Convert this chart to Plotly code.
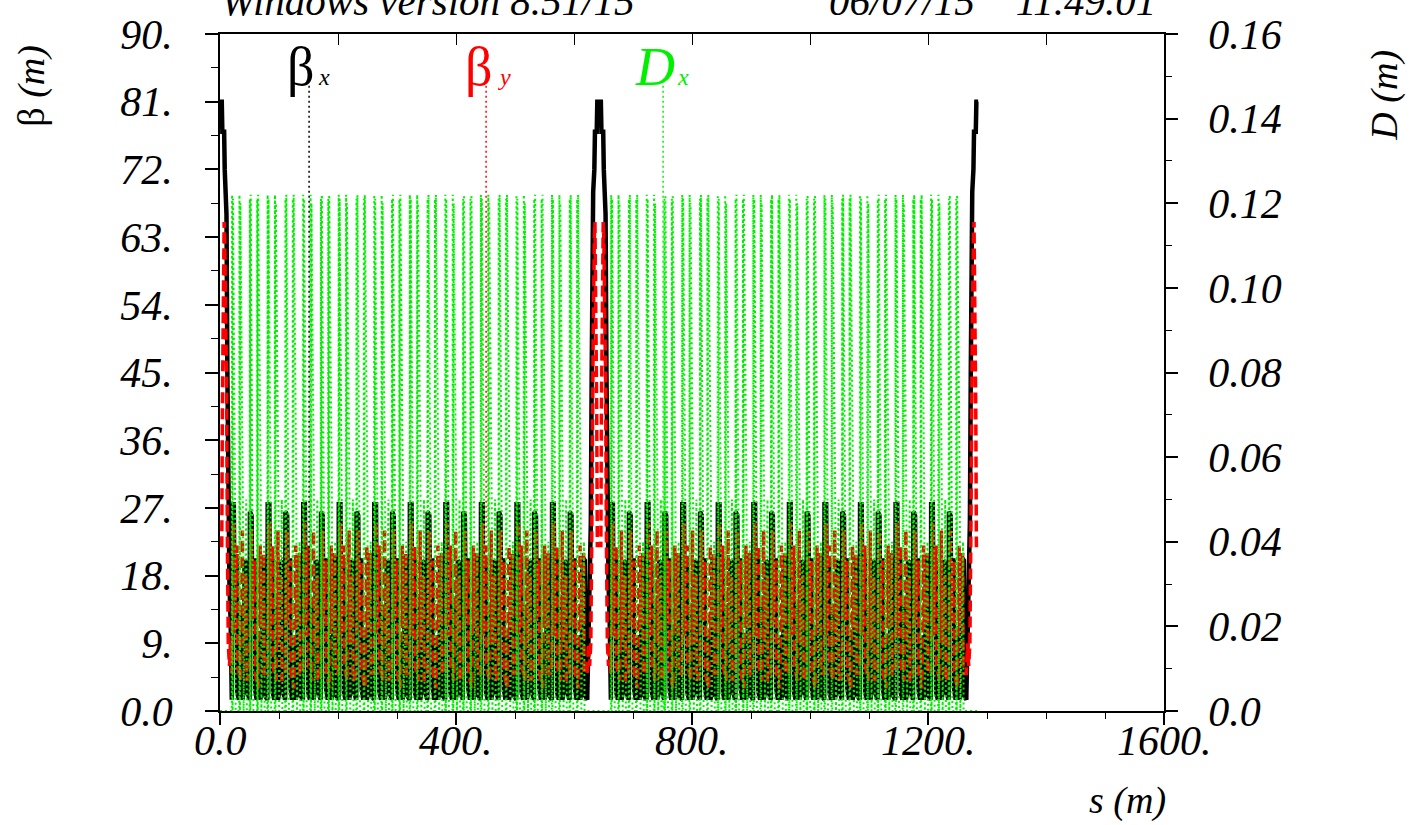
import numpy as np
import plotly.graph_objects as go

# ------------------------------------------------------------------
# Values (MAD twiss plot)
# ------------------------------------------------------------------
RING_LENGTH = 1285.0      # m
INS_HALF = 20.0           # half length of each insertion (m)
CELL_LEN = 30.125         # arc cell length (m)
N_CELLS_PER_ARC = 20

# insertion half profile: distance from insertion centre (m)
ins_d  = [0.0, 3.0, 4.0, 7.0, 8.0, 10.0, 11.0, 12.5, 14.0, 16.0, 18.0, 20.0]
ins_bx = [81.0, 81.0, 77.0, 77.0, 72.0, 69.0, 66.0, 45.0, 25.0, 17.0, 12.0, 2.0]
ins_by = [22.0, 22.0, 40.0, 65.0, 63.0, 50.0, 45.0, 22.0, 9.0, 6.0, 9.0, 5.0]
ins_dd = [0.0, 0.0, 3.0, 7.0, 8.0, 10.0, 11.0, 13.0, 15.0, 17.0, 19.0, 20.0]
ins_dx = [0.0, 0.0, 0.0, 0.0, 0.0, 0.0, 0.0, 0.0, 0.0, 0.0, 0.0, 0.0]

# arc cell A / B : offsets inside the cell (m) and values
bx_o  = [0.0, 0.6, 3.4, 4.0, 8.5, 9.1, 12.0, 12.6, 17.5, 18.1, 21.0, 21.6, 26.0, 26.6, 30.125]
bx_A  = [1.5, 27.5, 27.5, 20.0, 20.0, 2.5, 1.5, 14.0, 13.0, 1.5, 3.0, 20.0, 19.5, 2.5, 1.5]
bx_B  = [1.5, 26.5, 26.0, 20.0, 20.0, 3.0, 1.5, 9.0, 10.0, 1.5, 3.0, 20.5, 20.0, 2.0, 1.5]

by_o  = [0.0, 3.0, 3.6, 9.0, 9.6, 15.0, 18.0, 18.6, 24.0, 24.6, 30.125]
by_A  = [5.0, 25.0, 10.0, 22.0, 6.0, 4.0, 24.0, 9.0, 18.0, 4.0, 5.0]
by_B  = [5.0, 24.0, 12.0, 20.0, 5.0, 3.0, 22.0, 11.0, 21.0, 5.0, 5.0]

dx_o  = [0.0, 0.5, 1.3, 2.0, 5.5, 6.5, 12.5, 13.0, 13.8, 14.5, 19.0, 20.0, 24.5, 25.5, 30.125]
dx_A  = [0.0, 0.122, 0.0, 0.121, 0.05, 0.0, 0.0, 0.122, 0.0, 0.12, 0.045, 0.0, 0.05, 0.0, 0.0]
dx_B  = [0.0, 0.121, 0.0, 0.122, 0.045, 0.0, 0.0, 0.121, 0.0, 0.122, 0.05, 0.0, 0.04, 0.0, 0.0]

# axis tick labels
x_tickvals = [0, 400, 800, 1200, 1600]
x_ticktext = ["0.0", "400.", "800.", "1200.", "1600."]
y_tickvals = [0, 9, 18, 27, 36, 45, 54, 63, 72, 81, 90]
y_ticktext = ["0.0", "9.", "18.", "27.", "36.", "45.", "54.", "63.", "72.", "81.", "90."]
d_tickvals = [0, 0.02, 0.04, 0.06, 0.08, 0.10, 0.12, 0.14, 0.16]
d_ticktext = ["0.0", "0.02", "0.04", "0.06", "0.08", "0.10", "0.12", "0.14", "0.16"]

# positions of the curve labels (s, m)
label_s = {"bx": 151.0, "by": 451.0, "dx": 751.0}


def build(ins_o, ins_v, cell_o, cellA, cellB):
    """Assemble the ring from insertion half profiles and arc cells."""
    s_parts, v_parts = [], []
    io, iv = np.array(ins_o), np.array(ins_v)
    co = np.array(cell_o)
    centre = RING_LENGTH / 2.0
    s_parts.append(io); v_parts.append(iv)
    for arc_start in (INS_HALF, centre + INS_HALF):
        for k in range(N_CELLS_PER_ARC):
            s_parts.append(arc_start + k * CELL_LEN + co)
            v_parts.append(np.array(cellA if k % 2 == 0 else cellB))
        if arc_start == INS_HALF:
            s_parts.append(centre - io[::-1]); v_parts.append(iv[::-1])
            s_parts.append(centre + io[1:]); v_parts.append(iv[1:])
    s_parts.append(RING_LENGTH - io[::-1]); v_parts.append(iv[::-1])
    return np.concatenate(s_parts), np.concatenate(v_parts)


s_bx, v_bx = build(ins_d, ins_bx, bx_o, bx_A, bx_B)
s_by, v_by = build(ins_d, ins_by, by_o, by_A, by_B)
s_dx, v_dx = build(ins_dd, ins_dx, dx_o, dx_A, dx_B)

SERIF = "Liberation Serif"
GREEN = "#00f000"

fig = go.Figure()
fig.add_trace(go.Scatter(x=s_bx, y=v_bx, mode="lines",
                         line=dict(color="#000000", width=4.5), hoverinfo="skip"))
fig.add_trace(go.Scatter(x=s_by, y=v_by, mode="lines",
                         line=dict(color="#ff0000", width=3.5, dash="11px,5px"), hoverinfo="skip"))
fig.add_trace(go.Scatter(x=s_dx, y=v_dx, mode="lines", yaxis="y2",
                         line=dict(color=GREEN, width=2, dash="2px,3px"), hoverinfo="skip"))
# helper (empty) trace so the top tick axis is drawn
fig.add_trace(go.Scatter(x=[], y=[], xaxis="x2", hoverinfo="skip"))

# PLOT AREA in pixels: x 220..1164, y 30..711
L, R, T, B = 220, 1164, 30, 711
W, H = 1410, 825


def px(xp):
    return (xp - L) / (R - L)


def py(yp):
    return (B - yp) / (B - T)


tickfont = dict(family=SERIF, size=42, color="black", style="italic")

fig.update_layout(
    width=W, height=H, autosize=False,
    margin=dict(l=L, r=W - R, t=T, b=H - B, pad=0),
    paper_bgcolor="white", plot_bgcolor="white",
    showlegend=False,
    xaxis=dict(range=[0, 1600], showline=True, linecolor="black", linewidth=1.5, mirror=True,
               tickmode="array", tickvals=x_tickvals, ticktext=x_ticktext,
               ticks="outside", ticklen=12, tickwidth=1.5, tickcolor="black",
               minor=dict(tickmode="linear", tick0=0, dtick=100, ticks="outside",
                          ticklen=6, tickwidth=1.2, tickcolor="black"),
               showgrid=False, zeroline=False, showticklabels=False),
    xaxis2=dict(range=[0, 1600], overlaying="x", side="top", anchor="y",
                tickmode="linear", tick0=0, dtick=200, ticks="inside", ticklen=11,
                tickwidth=1.2, tickcolor="black",
                showticklabels=False, showgrid=False, zeroline=False, showline=False),
    yaxis=dict(range=[0, 90], showline=True, linecolor="black", linewidth=1.5,
               tickmode="array", tickvals=y_tickvals, ticktext=y_ticktext,
               ticks="outside", ticklen=13, tickwidth=1.5, tickcolor="black",
               minor=dict(tickmode="linear", tick0=0, dtick=4.5, ticks="outside",
                          ticklen=7, tickwidth=1.2, tickcolor="black"),
               showgrid=False, zeroline=False, tickfont=tickfont, ticklabelstandoff=24),
    yaxis2=dict(range=[0, 0.16], overlaying="y", side="right", anchor="x",
                showline=True, linecolor="black", linewidth=1.5,
                tickmode="array", tickvals=d_tickvals, ticktext=d_ticktext,
                ticks="outside", ticklen=12, tickwidth=1.5, tickcolor="black",
                minor=dict(tickmode="linear", tick0=0, dtick=0.01, ticks="outside",
                           ticklen=6, tickwidth=1.2, tickcolor="black"),
                showgrid=False, zeroline=False, tickfont=tickfont, ticklabelstandoff=22),
)

ann = []
# x tick labels (placed just below the axis as in the reference)
for v, t in zip(x_tickvals, x_ticktext):
    ann.append(dict(text=t, x=v, xref="x", y=py(741), yref="paper",
                    xanchor="center", yanchor="middle", showarrow=False, font=tickfont))
# header texts (partly cut off by the top of the page, as in the reference)
ann.append(dict(text="Windows version 8.51/15", x=px(219), y=py(-3), xref="paper", yref="paper",
                xanchor="left", yanchor="middle", showarrow=False,
                font=dict(family=SERIF, size=41, color="black", style="italic")))
ann.append(dict(text="06/07/15\u00a0\u00a0\u00a0\u00a011.49.01", x=px(1158), y=py(-3),
                xref="paper", yref="paper", xanchor="right", yanchor="middle", showarrow=False,
                font=dict(family=SERIF, size=41, color="black", style="italic")))
# axis titles
ann.append(dict(text="β <i>(m)</i>", x=px(32), y=py(82), xref="paper", yref="paper",
                xanchor="center", yanchor="middle", textangle=-90, showarrow=False,
                font=dict(family=SERIF, size=38, color="black")))
ann.append(dict(text="<i>D (m)</i>", x=px(1385), y=py(92), xref="paper", yref="paper",
                xanchor="center", yanchor="middle", textangle=-90, showarrow=False,
                font=dict(family=SERIF, size=38, color="black")))
ann.append(dict(text="<i>s (m)</i>", x=px(1127), y=py(801), xref="paper", yref="paper",
                xanchor="center", yanchor="middle", showarrow=False,
                font=dict(family=SERIF, size=38, color="black")))
# curve labels
for main, sub, xm, xs, col, it in [("β", "x", 300, 324, "#000000", False),
                                   ("β", "y", 478, 504, "#ff0000", False),
                                   ("D", "x", 655, 683, GREEN, True)]:
    ann.append(dict(text=main, x=px(xm), y=py(63), xref="paper", yref="paper",
                    xanchor="center", yanchor="middle", showarrow=False,
                    font=dict(family=SERIF, size=54, color=col,
                              style="italic" if it else "normal")))
    ann.append(dict(text=sub, x=px(xs), y=py(73), xref="paper", yref="paper",
                    xanchor="center", yanchor="middle", showarrow=False,
                    font=dict(family=SERIF, size=24, color=col, style="italic")))
fig.update_layout(annotations=ann)

# dotted leader lines from labels down to the curves
top_beta = (B - 82) / (B - T) * 90.0
top_d = (B - 82) / (B - T) * 0.16
shapes = [
    dict(type="line", xref="x", yref="y", x0=label_s["bx"], x1=label_s["bx"],
         y0=top_beta, y1=float(np.interp(label_s["bx"], s_bx, v_bx)),
         line=dict(color="#000000", width=1.5, dash="2px,3px")),
    dict(type="line", xref="x", yref="y", x0=label_s["by"], x1=label_s["by"],
         y0=top_beta, y1=float(np.interp(label_s["by"], s_by, v_by)),
         line=dict(color="#ff0000", width=1.5, dash="2px,3px")),
    dict(type="line", xref="x", yref="y2", x0=label_s["dx"], x1=label_s["dx"],
         y0=top_d, y1=float(np.interp(label_s["dx"], s_dx, v_dx)),
         line=dict(color=GREEN, width=1.5, dash="2px,3px")),
]
fig.update_layout(shapes=shapes)

fig.write_html("out.html")
